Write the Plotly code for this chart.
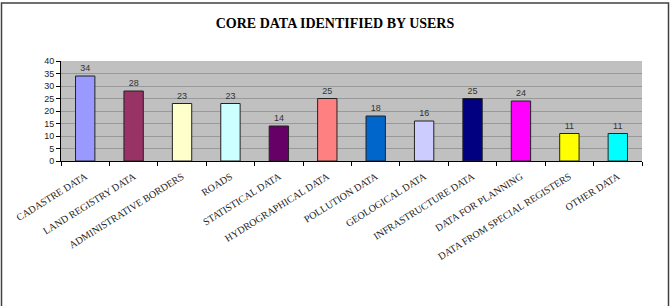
import plotly.graph_objects as go

categories = ["CADASTRE DATA", "LAND REGISTRY DATA", "ADMINISTRATIVE BORDERS", "ROADS",
              "STATISTICAL DATA", "HYDROGRAPHICAL DATA", "POLLUTION DATA", "GEOLOGICAL DATA",
              "INFRASTRUCTURE DATA", "DATA FOR PLANNING", "DATA FROM SPECIAL REGISTERS", "OTHER DATA"]
values = [34, 28, 23, 23, 14, 25, 18, 16, 25, 24, 11, 11]
colors = ["#9999FF", "#993366", "#FFFFCC", "#CCFFFF", "#660066", "#FF8080",
          "#0066CC", "#CCCCFF", "#000080", "#FF00FF", "#FFFF00", "#00FFFF"]
y_ticks = [0, 5, 10, 15, 20, 25, 30, 35, 40]
title = "CORE DATA IDENTIFIED BY USERS"

fig = go.Figure(go.Bar(
    x=categories, y=values,
    marker=dict(color=colors, line=dict(color="#222222", width=1)),
    text=[str(v) for v in values], textposition="outside", cliponaxis=False,
    textfont=dict(family="Liberation Sans, Arial", size=9, color="#333333"),
))

fig.update_layout(
    width=670, height=306,
    margin=dict(l=61, r=28, t=61, b=145),
    paper_bgcolor="white", plot_bgcolor="#C0C0C0",
    bargap=0.6, showlegend=False,
    title=dict(text="<b>" + title + "</b>", x=0.5, xanchor="center", y=0.925, yanchor="middle",
               font=dict(family="Liberation Serif, Times New Roman", size=14, color="black")),
    shapes=[dict(type="rect", xref="paper", yref="paper",
                 x0=(1.5 - 61) / 581, x1=(668.5 - 61) / 581,
                 y0=(161 - 312) / 100, y1=(161 - 3) / 100,
                 line=dict(color="#404040", width=1.5), fillcolor="rgba(0,0,0,0)", layer="below")],
)
fig.update_yaxes(range=[0, 40], tickvals=y_ticks, showgrid=True, gridcolor="#999999", gridwidth=1,
                 showline=True, linecolor="black", linewidth=1, ticks="outside", ticklen=4,
                 tickcolor="black", zeroline=False,
                 tickfont=dict(family="Liberation Sans, Arial", size=9, color="#222222"))
fig.update_xaxes(showline=True, linecolor="black", linewidth=1, ticks="outside", ticklen=4,
                 tickcolor="black", tickson="boundaries", tickangle=-32, ticklabelstandoff=5,
                 tickfont=dict(family="Liberation Serif, Times New Roman", size=10, color="#222222"))

fig.write_html("out.html")
